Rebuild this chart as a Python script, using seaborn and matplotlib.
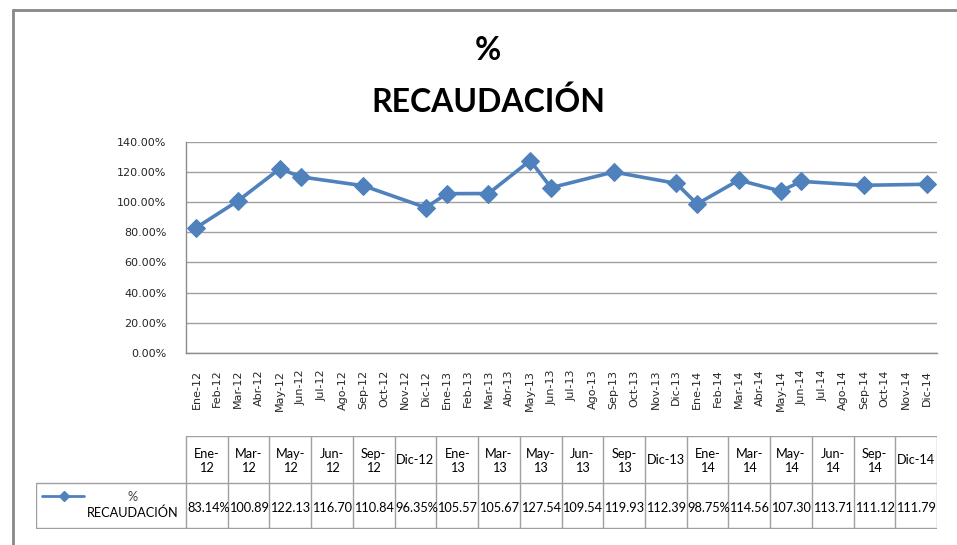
import matplotlib
matplotlib.use("Agg")
import matplotlib.pyplot as plt
import seaborn as sns
import pandas as pd
from matplotlib.ticker import FuncFormatter, MultipleLocator
from matplotlib.lines import Line2D

# ---------------- data ----------------
months = ["Ene-12", "Feb-12", "Mar-12", "Abr-12", "May-12", "Jun-12", "Jul-12", "Ago-12",
          "Sep-12", "Oct-12", "Nov-12", "Dic-12",
          "Ene-13", "Feb-13", "Mar-13", "Abr-13", "May-13", "Jun-13", "Jul-13", "Ago-13",
          "Sep-13", "Oct-13", "Nov-13", "Dic-13",
          "Ene-14", "Feb-14", "Mar-14", "Abr-14", "May-14", "Jun-14", "Jul-14", "Ago-14",
          "Sep-14", "Oct-14", "Nov-14", "Dic-14"]
point_months = ["Ene-12", "Mar-12", "May-12", "Jun-12", "Sep-12", "Dic-12",
                "Ene-13", "Mar-13", "May-13", "Jun-13", "Sep-13", "Dic-13",
                "Ene-14", "Mar-14", "May-14", "Jun-14", "Sep-14", "Dic-14"]
recaudacion = [83.14, 100.89, 122.13, 116.70, 110.84, 96.35,
               105.57, 105.67, 127.54, 109.54, 119.93, 112.39,
               98.75, 114.56, 107.30, 113.71, 111.12, 111.79]
header_labels = ["Ene-\n12", "Mar-\n12", "May-\n12", "Jun-\n12", "Sep-\n12", "Dic-12",
                 "Ene-\n13", "Mar-\n13", "May-\n13", "Jun-\n13", "Sep-\n13", "Dic-13",
                 "Ene-\n14", "Mar-\n14", "May-\n14", "Jun-\n14", "Sep-\n14", "Dic-14"]

df = pd.DataFrame({"mes": point_months, "valor": recaudacion})
df["pos"] = [months.index(m) for m in df["mes"]]

BLUE = "#4F81BD"
W, H = 957, 545

sns.set_theme(style="white")
plt.rcParams["font.family"] = ["DejaVu Sans"]

fig = plt.figure(figsize=(W / 100, H / 100), dpi=100)

def px_rect(x0, y0, x1, y1):
    return [x0 / W, 1 - y1 / H, (x1 - x0) / W, (y1 - y0) / H]

# outer frame (left + top)
fig.add_artist(Line2D([13 / W, 13 / W], [0, 1 - 10 / H], transform=fig.transFigure,
                      color="#888888", lw=2))
fig.add_artist(Line2D([13 / W, 1], [1 - 10 / H, 1 - 10 / H], transform=fig.transFigure,
                      color="#888888", lw=2))

# title
fig.text(488 / W, 1 - 60 / H, "%", ha="center", va="baseline",
         fontsize=23, fontweight="bold", family=["Lato", "DejaVu Sans"], color="black")
fig.text(488 / W, 1 - 112 / H, "RECAUDACIÓN", ha="center", va="baseline",
         fontsize=23, fontweight="bold", family=["Lato", "DejaVu Sans"], color="black")

# main chart
ax = fig.add_axes(px_rect(186, 141.7, 937, 353))
sns.lineplot(data=df, x="pos", y="valor", ax=ax, color=BLUE, lw=2.6,
             marker="D", markersize=9, markeredgecolor=BLUE, markerfacecolor=BLUE,
             legend=False)
ax.set_xlim(-0.5, len(months) - 0.5)
ax.set_ylim(0, 140)
ax.yaxis.set_major_locator(MultipleLocator(20))
ax.yaxis.set_major_formatter(FuncFormatter(lambda v, p: f"{v:.2f}%"))
ax.set_xticks(range(len(months)))
ax.set_xticklabels(months, rotation=90, fontsize=8, color="#262626")
ax.tick_params(axis="y", labelsize=8, labelcolor="#262626", length=0, pad=14)
ax.tick_params(axis="x", length=0, pad=12)
ax.set_xlabel("")
ax.set_ylabel("")
ax.grid(axis="y", color="#A0A0A0", lw=1)
ax.set_axisbelow(True)
for s in ["top", "right"]:
    ax.spines[s].set_visible(False)
for s in ["left", "bottom"]:
    ax.spines[s].set_color("#8C8C8C")
    ax.spines[s].set_linewidth(1)

# data table
tx0, tx1, ty0, tmid, ty1 = 36, 937, 436, 483, 528
col0 = 186
ncol = len(point_months)
cw = (tx1 - col0) / ncol
at = fig.add_axes(px_rect(tx0, ty0, tx1, ty1 + 1))
at.set_xlim(tx0, tx1)
at.set_ylim(ty1 + 1, ty0)
at.axis("off")
GRID = "#A0A0A0"
at.plot([col0, tx1], [ty0, ty0], color=GRID, lw=1)
at.plot([tx0, tx1], [tmid, tmid], color=GRID, lw=1)
at.plot([tx0, tx1], [ty1, ty1], color=GRID, lw=1)
at.plot([tx0, tx0], [tmid, ty1], color=GRID, lw=1)
for i in range(ncol + 1):
    x = col0 + i * cw
    at.plot([x, x], [ty0, ty1], color=GRID, lw=1)

TFONT = ["Lato", "DejaVu Sans"]
TS = 9.2
for i, (lab, v) in enumerate(zip(header_labels, recaudacion)):
    cx = col0 + (i + 0.5) * cw
    at.text(cx, (ty0 + tmid) / 2 + 1, lab, ha="center", va="center", fontsize=TS,
            family=TFONT, color="black", linespacing=1.2)
    txt = f"{v:.2f}%"[:6]
    at.text(col0 + i * cw + 1, (tmid + ty1) / 2 + 2, txt, ha="left", va="center",
            fontsize=TS, family=TFONT, color="black")

# legend key in table
at.add_line(Line2D([42, 84], [496, 496], color=BLUE, lw=2))
at.add_line(Line2D([64], [496], color=BLUE, marker="D", markersize=5, lw=0))
at.text(133, 497, "%", ha="center", va="center", fontsize=TS, family=TFONT, color="#404040")
at.text(133, 513, "RECAUDACIÓN", ha="center", va="center", fontsize=TS, family=TFONT,
        color="black")

fig.savefig("out.png", dpi=100)
